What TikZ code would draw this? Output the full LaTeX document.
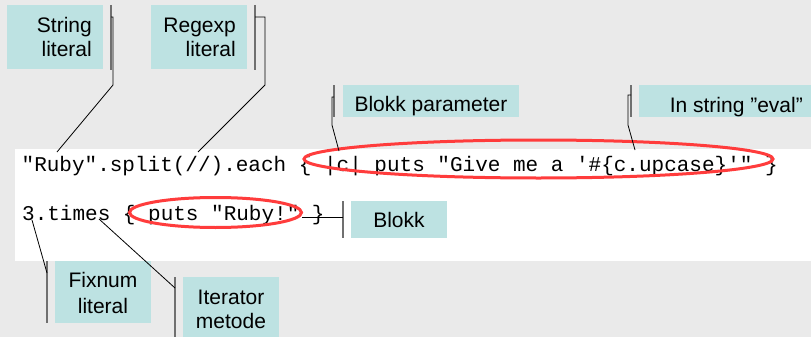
\documentclass[tikz,border=0pt]{standalone}
\usepackage{fontspec}
\setmainfont{Liberation Sans}
\setmonofont{Liberation Mono}
\usetikzlibrary{shapes.geometric}
\definecolor{bg}{RGB}{234,234,234}
\definecolor{lblue}{RGB}{189,226,226}
\definecolor{barg}{RGB}{112,112,112}
\definecolor{ered}{RGB}{255,60,60}
\begin{document}
\begin{tikzpicture}[x=1pt,y=-1pt,
  lbox/.style={fill=lblue, draw=none, inner sep=0pt, anchor=north west},
  lbl/.style={font=\fontsize{21}{24}\selectfont, inner sep=0pt},
  code/.style={font=\ttfamily\fontsize{21}{24}\selectfont, inner sep=0pt, anchor=base west},
  accent/.style={draw=barg, line width=2pt},
  call/.style={draw=black, line width=0.8pt},
  oval/.style={draw=ered, line width=3pt, ellipse, inner sep=0pt}]
\fill[bg] (0,0) rectangle (811,337);
\useasboundingbox (0,0) rectangle (811,337);
\fill[white] (15,149) rectangle (811,261);

% code
\node[code] (line1) at (21.5,171) {"Ruby".split(//).each \{ |c| puts "Give me a '\#\{c.upcase\}'" \}};
\node[code] (line2) at (22,220) {3.times \{ puts "Ruby!" \}};

% ovals
\node[oval, minimum width=469, minimum height=38] (e1) at (538.5,159) {};
\node[oval, minimum width=172, minimum height=30] (e2) at (215.5,212.5) {};

% String literal
\node[lbox, minimum width=96, minimum height=64] (slbox) at (7,5) {};
\node[lbl, anchor=base east] (sl1) at (92,33) {String};
\node[lbl, anchor=base east] (sl2) at (92,57) {literal};
\draw[accent] (111,5) -- (111,70);
\coordinate (slA) at (111,17);
\coordinate (slB) at (113,17);
\coordinate (slC) at (113,85);
\coordinate (slT) at (57,152);
\draw[call] (slA) -- (slB) -- (slC) -- (slT);

% Regexp literal
\node[lbox, minimum width=96, minimum height=64] (rlbox) at (151,5) {};
\node[lbl, anchor=base east] (rl1) at (236,33) {Regexp};
\node[lbl, anchor=base east] (rl2) at (236,57) {literal};
\draw[accent] (255,5) -- (255,70);
\coordinate (rlA) at (255,17);
\coordinate (rlB) at (265,17);
\coordinate (rlC) at (265,85);
\coordinate (rlT) at (198,152);
\draw[call] (rlA) -- (rlB) -- (rlC) -- (rlT);

% Blokk parameter
\node[lbox, minimum width=176, minimum height=32] (bpbox) at (343,85) {};
\node[lbl, anchor=base] (bp) at (431,111.5) {Blokk parameter};
\draw[accent] (334,85) -- (334,117);
\coordinate (bpA) at (334,97);
\coordinate (bpB) at (332,97);
\coordinate (bpC) at (332,125);
\coordinate (bpT) at (339,151);
\draw[call] (bpA) -- (bpB) -- (bpC) -- (bpT);

% In string eval
\node[lbox, minimum width=175, minimum height=32] (isbox) at (639,85) {};
\node[lbl, anchor=base east] (is) at (803,112) {In string ”eval”};
\draw[accent] (631,85) -- (631,117);
\coordinate (isA) at (631,95);
\coordinate (isB) at (628,95);
\coordinate (isC) at (628,125);
\coordinate (isT) at (635,150);
\draw[call] (isA) -- (isB) -- (isC) -- (isT);

% Blokk
\node[lbox, minimum width=96, minimum height=37] (bkbox) at (351,201) {};
\node[lbl, anchor=base] (bk) at (399,227) {Blokk};
\draw[accent] (343,201) -- (343,238);
\coordinate (bkA) at (343,217);
\coordinate (bkT) at (302,217);
\draw[call] (bkA) -- (bkT);

% Fixnum literal
\node[lbox, minimum width=96, minimum height=62] (fxbox) at (55,261) {};
\node[lbl, anchor=base] (fx1) at (103,287) {Fixnum};
\node[lbl, anchor=base] (fx2) at (103,313) {literal};
\draw[accent] (47,261) -- (47,323);
\coordinate (fxA) at (47,273);
\coordinate (fxT) at (32,220);
\draw[call] (fxA) -- (fxT);

% Iterator metode
\node[lbox, minimum width=96, minimum height=62] (itbox) at (183,277) {};
\node[lbl, anchor=base] (it1) at (231,304) {Iterator};
\node[lbl, anchor=base] (it2) at (231,328) {metode};
\draw[accent] (175,277) -- (175,340);
\coordinate (itA) at (175,288);
\coordinate (itT) at (99,219);
\draw[call] (itA) -- (itT);
\end{tikzpicture}
\end{document}
